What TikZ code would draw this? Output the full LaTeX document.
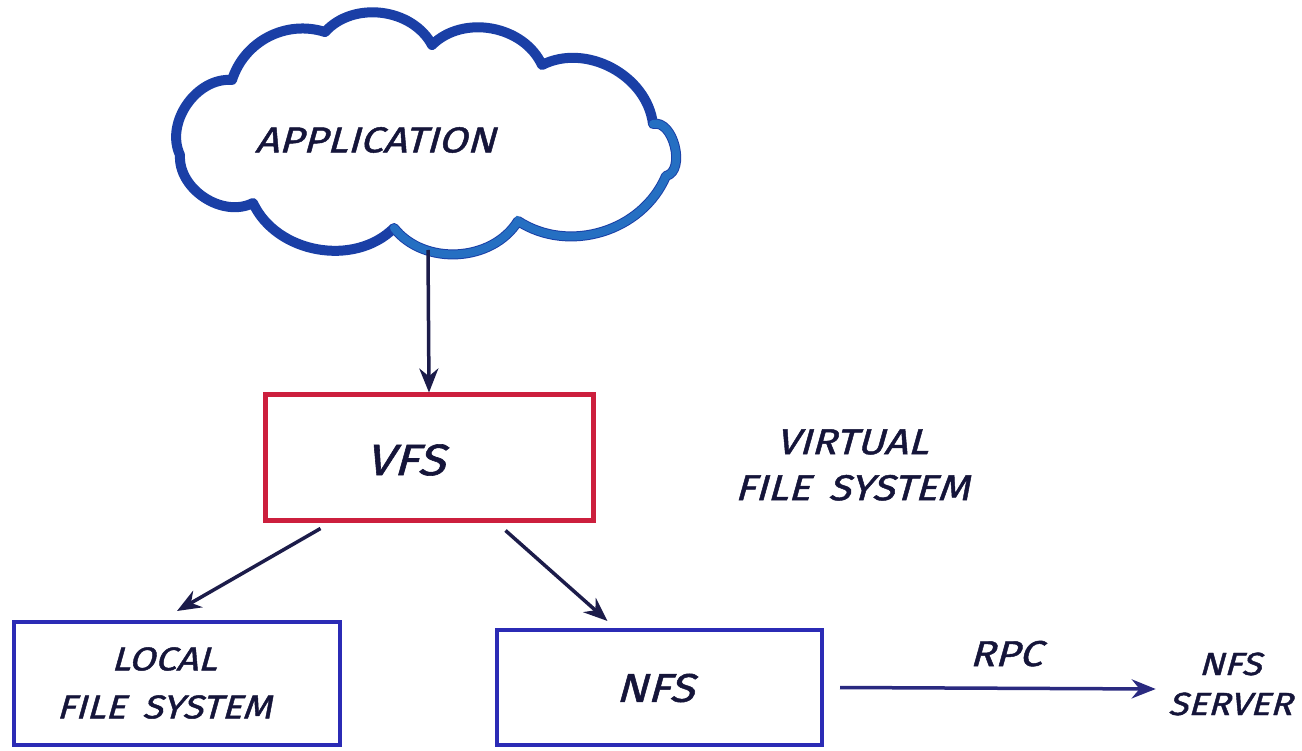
\documentclass[tikz,border=0pt]{standalone}
\usepackage{fontspec}
\setmainfont{Fira Sans}
\newfontfamily\handfont{Fira Sans}[FakeSlant=0.28,FakeStretch=1.15,FakeBold=1.3]
\usetikzlibrary{arrows.meta,calc}
\definecolor{ink}{HTML}{15153A}
\definecolor{navy}{HTML}{1C1C4A}
\definecolor{cloudblue}{HTML}{1A3FA6}
\definecolor{cloudlight}{HTML}{2A80CC}
\definecolor{vfsred}{HTML}{CC1F3D}
\definecolor{boxblue}{HTML}{2B2BB5}
\definecolor{rpcblue}{HTML}{2A2A80}
\tikzset{
  hand/.style={text=ink,font=\handfont\fontsize{36}{46}\selectfont,align=center,inner sep=0pt},
  cloudline/.style={draw=cloudblue,line width=10pt,line cap=round,line join=round},
  cloudhi/.style={draw=cloudlight,line width=8pt,line cap=round,opacity=0.75},
  vfsbox/.style={draw=vfsred,line width=5pt,minimum width=328pt,minimum height=125pt,inner sep=0pt},
  fsbox/.style={draw=boxblue,line width=4pt,inner sep=0pt},
  conn/.style={draw=navy,line width=3.5pt,-{Stealth[length=24pt,width=19pt]}},
}
\begin{document}
\begin{tikzpicture}[x=1pt,y=-1pt]
\useasboundingbox[fill=white] (0,0) rectangle (1302,751);
% cloud
\draw[cloudline] (232,80) to[bend left=45] (325,32) to[bend left=55] (432,45)
  to[bend left=55] (542,65) to[bend left=55] (653,124) to[bend left=90] (666,176)
  to[bend left=50] (518,221) to[bend left=55] (394,228) to[bend left=55] (253,203)
  to[bend left=60] (180,155) to[bend left=60] cycle;
\draw[cloudhi] (653,124) to[bend left=90] (666,176) to[bend left=50] (518,221) to[bend left=55] (394,228);
\node[hand] (app) at (375,140) {APPLICATION};
\coordinate (cb) at (428,250);
% boxes
\node[vfsbox] (vfs) at (429,457.5) {};
\node[hand,font=\handfont\fontsize{44}{50}\selectfont] (vfstext) at (405,460) {VFS};
\node[hand] (vfslabel) at (852,465) {VIRTUAL\\FILE\enspace SYSTEM};
\node[fsbox,minimum width=326pt,minimum height=123pt] (local) at (177,683.5) {};
\node[hand,font=\handfont\fontsize{33}{48}\selectfont] (localtext) at (164,683) {LOCAL\\FILE\enspace SYSTEM};
\node[fsbox,minimum width=325pt,minimum height=115pt] (nfs) at (659.5,687.5) {};
\node[hand,font=\handfont\fontsize{40}{46}\selectfont] (nfstext) at (655,688) {NFS};
\node[hand,font=\handfont\fontsize{32}{40}\selectfont] (srv) at (1230,684) {NFS\\SERVER};
% connectors
\draw[conn] (cb) -- (vfs.north);
\draw[conn] ([xshift=58pt,yshift=-6pt]vfs.south west) -- ([yshift=9pt]local.north);
\draw[conn] ([xshift=-90pt,yshift=-8pt]vfs.south east) -- ([xshift=-52pt,yshift=7pt]nfs.north);
\draw[conn,draw=rpcblue] ([xshift=16pt]nfs.east) -- node[hand,above=20pt,xshift=8pt] (rpc) {RPC} ([xshift=-12pt,yshift=-5pt]srv.west);
\end{tikzpicture}
\end{document}
